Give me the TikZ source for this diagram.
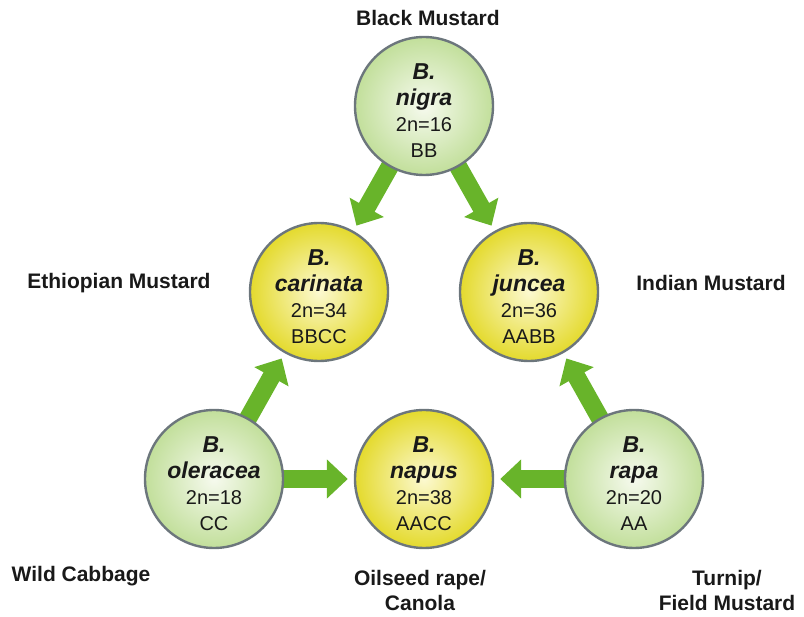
\documentclass[tikz,border=0pt]{standalone}
\usepackage{fontspec}
\setmainfont{Liberation Sans}
\usetikzlibrary{arrows.meta}
\definecolor{arrowgreen}{RGB}{104,180,42}
\definecolor{gin}{RGB}{246,250,238}
\definecolor{gout}{RGB}{194,223,155}
\definecolor{yin}{RGB}{252,249,208}
\definecolor{yout}{RGB}{228,218,45}
\definecolor{rim}{RGB}{108,118,124}
\newcommand\spname[1]{{\fontsize{23}{26}\selectfont\bfseries\itshape #1}}
\pgfdeclarelayer{bg}
\pgfsetlayers{bg,main}
\begin{document}
\begin{tikzpicture}[x=1pt,y=-1pt,
  spcirc/.style={circle, minimum size=138pt, inner sep=0pt, draw=rim, line width=2.4pt},
  gcirc/.style={spcirc, inner color=gin, outer color=gout},
  ycirc/.style={spcirc, inner color=yin, outer color=yout},
  sptext/.style={align=center, font=\fontsize{20}{26}\selectfont, text=black!90, inner sep=0pt},
  blk/.style={draw=arrowgreen, fill=arrowgreen, line width=18pt,
     -{Triangle[width=38pt,length=21pt]}, shorten >=6pt, shorten <=-6pt},
  lbl/.style={font=\fontsize{21}{25}\selectfont\bfseries, align=center, text=black!90}]
\useasboundingbox (0,0) rectangle (804,617);
\node[gcirc] (nigra) at (424,106) {};
\node[ycirc] (carinata) at (319,292) {};
\node[ycirc] (juncea) at (529,292) {};
\node[gcirc] (oleracea) at (214,479) {};
\node[ycirc] (napus) at (424,479) {};
\node[gcirc] (rapa) at (634,479) {};
\node[sptext] (nigra-t) at ([yshift=-5pt]nigra.center) {\spname{B.}\\ \spname{nigra}\\ 2n=16\\ BB};
\node[sptext] (carinata-t) at ([yshift=-5pt]carinata.center) {\spname{B.}\\ \spname{carinata}\\ 2n=34\\ BBCC};
\node[sptext] (juncea-t) at ([yshift=-5pt]juncea.center) {\spname{B.}\\ \spname{juncea}\\ 2n=36\\ AABB};
\node[sptext] (oleracea-t) at ([yshift=-5pt]oleracea.center) {\spname{B.}\\ \spname{oleracea}\\ 2n=18\\ CC};
\node[sptext] (napus-t) at ([yshift=-5pt]napus.center) {\spname{B.}\\ \spname{napus}\\ 2n=38\\ AACC};
\node[sptext] (rapa-t) at ([yshift=-5pt]rapa.center) {\spname{B.}\\ \spname{rapa}\\ 2n=20\\ AA};
\begin{pgfonlayer}{bg}
\draw[blk] (nigra) -- (carinata);
\draw[blk] (nigra) -- (juncea);
\draw[blk] (oleracea) -- (carinata);
\draw[blk] (rapa) -- (juncea);
\draw[blk] (oleracea) -- (napus);
\draw[blk] (rapa) -- (napus);
\end{pgfonlayer}
\node[lbl] (lblack) at (428,18) {Black Mustard};
\node[lbl] (leth) at (119,283) {Ethiopian Mustard};
\node[lbl] (lind) at (711,283) {Indian Mustard};
\node[lbl] (lwild) at (81,576) {Wild Cabbage};
\node[lbl] (loil) at (420,590) {Oilseed rape/\\Canola};
\node[lbl] (lturn) at (727,590) {Turnip/\\Field Mustard};
\end{tikzpicture}
\end{document}
